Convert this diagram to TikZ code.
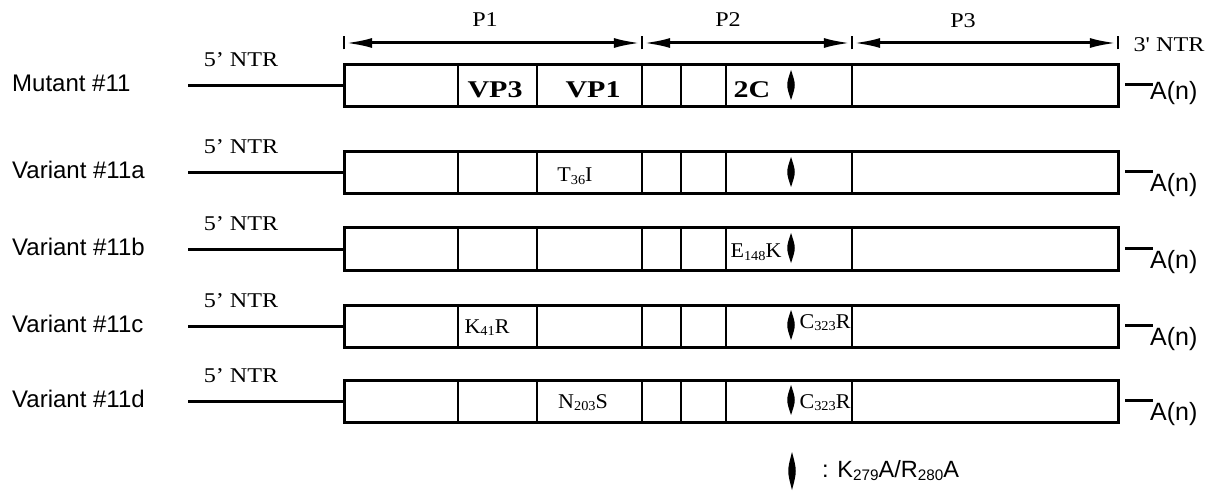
\documentclass[tikz,border=0pt]{standalone}
\usepackage{fontspec}
\setmainfont{Liberation Serif}
\newfontfamily\serlab[FakeStretch=1.15]{Liberation Serif}
\newfontfamily\serbold[FakeStretch=1.25]{Liberation Serif}
\newfontfamily\sermut[FakeStretch=1.05]{Liberation Serif}
\newfontfamily\sanslab{Liberation Sans}
\usetikzlibrary{arrows.meta}
\newcommand\sbs[1]{\raisebox{-0.3ex}{\scalebox{0.65}{#1}}}
\tikzset{
  seq/.style={draw, line width=3pt, rectangle, inner sep=0pt, minimum width=774pt, minimum height=42pt},
  divline/.style={line width=2pt},
  lead/.style={line width=3pt},
  dimline/.style={line width=3pt, {Latex[length=27pt,width=10pt]}-{Latex[length=27pt,width=10pt]}, shorten <=1.2pt, shorten >=1.2pt},
  tickline/.style={line width=2.5pt},
  rowlbl/.style={font=\sanslab\fontsize{24}{28}\selectfont, inner sep=0pt, anchor=base west},
  anlbl/.style={font=\sanslab\fontsize{25}{29}\selectfont, inner sep=0pt, anchor=base west},
  ntrlbl/.style={font=\serlab\fontsize{21}{25}\selectfont, inner sep=0pt, anchor=base},
  boldlbl/.style={font=\serbold\bfseries\fontsize{24}{28}\selectfont, inner sep=0pt, anchor=base},
  mutlbl/.style={font=\sermut\fontsize{21}{25}\selectfont, inner sep=0pt, anchor=base},
  leglbl/.style={font=\sanslab\fontsize{23.5}{28}\selectfont, inner sep=0pt, anchor=base west},
}
\begin{document}
\begin{tikzpicture}[x=1pt,y=-1pt]
\useasboundingbox (0,0) rectangle (1214,494);
% polyprotein dimension arrows
\coordinate (t1) at (344,43);
\coordinate (t2) at (642,43);
\coordinate (t3) at (852,43);
\coordinate (t4) at (1118,43);
\foreach \t in {t1,t2,t3,t4} \draw[tickline] ([yshift=-6.5pt]\t) -- ([yshift=6.5pt]\t);
\draw[dimline] (t1) -- (t2);
\draw[dimline] (t2) -- (t3);
\draw[dimline] (t3) -- (t4);
\node[ntrlbl] (P1) at (485,27) {P1};
\node[ntrlbl] (P2) at (728,27) {P2};
\node[ntrlbl] (P3) at (963,28) {P3};
\node[ntrlbl] (ntr3) at (1169,52) {3' NTR};
% rows
\foreach \r/\yc/\ab/\name in {1/86/14/Mutant \#11, 2/173/19/Variant \#11a, 3/249/19/Variant \#11b, 4/326/19/Variant \#11c, 5/401/19/Variant \#11d} {
  \node[rowlbl] (lab\r) at (12,\yc+6) {\name};
  \foreach \x in {458,537,642,681,726,852} \draw[divline] (\x,\yc-21) -- (\x,\yc+21);
  \node[seq] (box\r) at (731,\yc) {};
  \coordinate (s\r) at (188,\yc);
  \draw[lead] (s\r) -- (box\r.west);
  \node[ntrlbl] (ntr\r) at (241,\yc-19) {5’ NTR};
  \fill (791,\yc-16) .. controls (796,\yc-1) .. (791,\yc+14) .. controls (786,\yc-1) .. (791,\yc-16);
  \coordinate (p\r) at (1125,\yc-1);
  \coordinate (q\r) at (1153,\yc-1);
  \draw[lead] (p\r) -- (q\r);
  \node[anlbl] (an\r) at (1150,\yc+\ab) {A(n)};
}
% gene labels
\node[boldlbl] (vp3) at (495,98) {VP3};
\node[boldlbl] (vp1) at (593,98) {VP1};
\node[boldlbl] (c2) at (752,98) {2C};
% mutations
\node[mutlbl] (m2) at (575,182) {T\sbs{36}I};
\node[mutlbl] (m3) at (756,258) {E\sbs{148}K};
\node[mutlbl] (m4a) at (487,333) {K\sbs{41}R};
\node[mutlbl] (m4b) at (825,328) {C\sbs{323}R};
\node[mutlbl] (m5a) at (583,408) {N\sbs{203}S};
\node[mutlbl] (m5b) at (825,408) {C\sbs{323}R};
% legend
\fill (792,452) .. controls (797,471) .. (792,490) .. controls (787,471) .. (792,452);
\node[leglbl] (leg) at (822,477) {: K\sbs{279}A/R\sbs{280}A};
\end{tikzpicture}
\end{document}
